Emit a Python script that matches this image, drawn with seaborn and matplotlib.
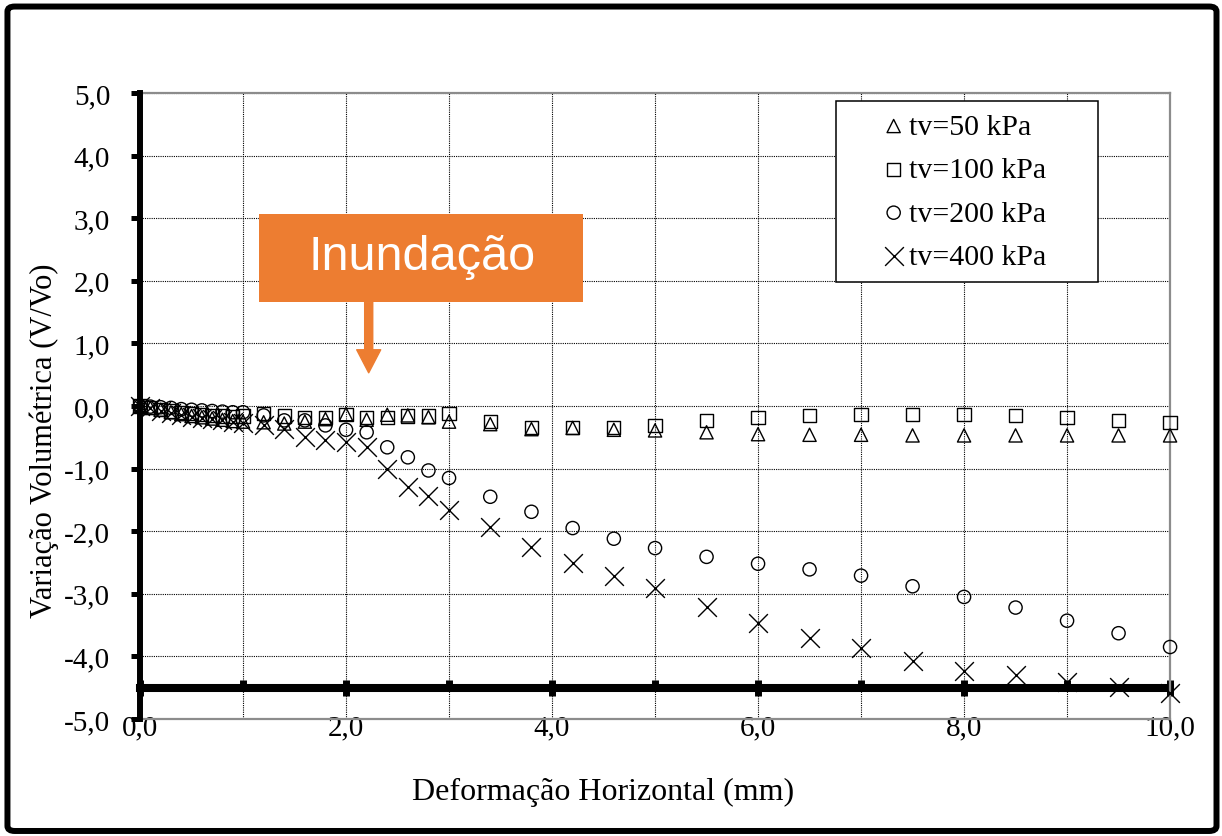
import matplotlib
matplotlib.use("Agg")
import matplotlib.pyplot as plt
from matplotlib.patches import Rectangle, FancyBboxPatch
from matplotlib.ticker import FuncFormatter, MultipleLocator
import seaborn as sns

# Horizontal displacement (mm)
deformacao = [0.0, 0.1, 0.2, 0.3, 0.4, 0.5, 0.6, 0.7, 0.8, 0.9, 1.0,
              1.2, 1.4, 1.6, 1.8, 2.0, 2.2, 2.4, 2.6, 2.8, 3.0,
              3.4, 3.8, 4.2, 4.6, 5.0, 5.5, 6.0, 6.5, 7.0, 7.5,
              8.0, 8.5, 9.0, 9.5, 10.0]

# Volumetric change for each normal stress
tv50 = [0.0, -0.03, -0.06, -0.10, -0.13, -0.16, -0.18, -0.20, -0.22, -0.24, -0.25,
        -0.26, -0.28, -0.25, -0.21, -0.13, -0.22, -0.14, -0.15, -0.18, -0.25,
        -0.29, -0.37, -0.35, -0.38, -0.39, -0.42, -0.45, -0.46, -0.46, -0.47,
        -0.47, -0.47, -0.47, -0.47, -0.47]
tv100 = [0.0, -0.02, -0.05, -0.08, -0.10, -0.12, -0.14, -0.15, -0.16, -0.17, -0.16,
         -0.12, -0.16, -0.18, -0.19, -0.14, -0.18, -0.18, -0.16, -0.16, -0.12,
         -0.25, -0.35, -0.34, -0.34, -0.31, -0.23, -0.18, -0.15, -0.13, -0.14,
         -0.14, -0.15, -0.19, -0.23, -0.26]
tv200 = [0.0, -0.01, -0.02, -0.03, -0.05, -0.06, -0.07, -0.08, -0.09, -0.10, -0.10,
         -0.15, -0.23, -0.23, -0.31, -0.38, -0.42, -0.66, -0.82, -1.03, -1.15,
         -1.45, -1.69, -1.95, -2.12, -2.27, -2.41, -2.52, -2.61, -2.71, -2.88,
         -3.05, -3.22, -3.43, -3.63, -3.85]
tv400 = [0.0, -0.04, -0.08, -0.11, -0.14, -0.17, -0.19, -0.21, -0.23, -0.25, -0.27,
         -0.31, -0.37, -0.50, -0.55, -0.58, -0.66, -1.00, -1.29, -1.43, -1.66,
         -1.94, -2.26, -2.51, -2.72, -2.91, -3.21, -3.47, -3.71, -3.87, -4.07,
         -4.23, -4.30, -4.41, -4.49, -4.58]

series_labels = ["tv=50 kPa", "tv=100 kPa", "tv=200 kPa", "tv=400 kPa"]
series_values = [tv50, tv100, tv200, tv400]
series_markers = ["^", "s", "o", "x"]

sns.set_style("white")
plt.rcParams["font.family"] = ["Liberation Serif", "DejaVu Serif"]
plt.rcParams["text.color"] = "black"
plt.rcParams["axes.labelcolor"] = "black"
plt.rcParams["xtick.color"] = "black"
plt.rcParams["ytick.color"] = "black"
plt.rcParams["xtick.labelcolor"] = "black"
plt.rcParams["ytick.labelcolor"] = "black"

fig = plt.figure(figsize=(12.22, 8.37), dpi=100)
ax = fig.add_axes([0.1146, 0.1398, 0.8429, 0.7479])

for label, values, marker in zip(series_labels, series_values, series_markers):
    if marker == "x":
        sns.scatterplot(x=deformacao, y=values, ax=ax, marker="x", s=13.5 ** 2,
                        color="black", linewidth=1.0, label=label,
                        zorder=3, clip_on=False, legend=False)
    else:
        sns.scatterplot(x=deformacao, y=values, ax=ax, marker=marker, s=9.5 ** 2,
                        color="black", facecolor="none", edgecolor="black",
                        linewidth=1.0, label=label, zorder=3, clip_on=False,
                        legend=False)

ax.set_xlim(0, 10)
ax.set_ylim(-5, 5)

fmt = FuncFormatter(lambda v, p: f"{v:.1f}".replace(".", ","))
ax.yaxis.set_major_locator(MultipleLocator(1))
ax.yaxis.set_major_formatter(fmt)
ax.xaxis.set_major_locator(MultipleLocator(1))
ax.xaxis.set_major_formatter(
    FuncFormatter(lambda v, p: f"{v:.1f}".replace(".", ",") if round(v) % 2 == 0 else ""))

ax.tick_params(axis="y", which="major", direction="out", length=6.5, width=3.6,
               pad=15, labelsize=21, color="black", labelcolor="black", left=True)
ax.tick_params(axis="x", which="major", length=0, pad=-3.5, labelsize=21,
               labelcolor="black")

ax.grid(True, color="black", linestyle=(0, (1, 1)), linewidth=0.8)
ax.set_axisbelow(True)

for side in ["top", "right", "bottom"]:
    ax.spines[side].set_color("#8c8c8c")
    ax.spines[side].set_linewidth(1.6)
ax.spines["left"].set_color("black")
ax.spines["left"].set_linewidth(4.3)
ax.spines["left"].set_zorder(4)

# Thick horizontal axis line crossing at V/Vo = -4,5
sec = ax.secondary_xaxis(-4.5, transform=ax.transData)
sec.spines["bottom"].set_linewidth(5.8)
sec.spines["bottom"].set_color("black")
sec.xaxis.set_major_locator(MultipleLocator(2))
sec.xaxis.set_minor_locator(MultipleLocator(1))
sec.tick_params(axis="x", which="major", direction="inout", length=11, width=5,
                labelbottom=False, color="black")
sec.tick_params(axis="x", which="minor", direction="in", length=5.5, width=5,
                labelbottom=False, color="black")

ax.set_xlabel("Deformação Horizontal (mm)", fontsize=23, color="black")
ax.xaxis.set_label_coords(0.45, -0.093)
ax.set_ylabel("Variação Volumétrica (V/Vo)", fontsize=22, color="black")
ax.yaxis.set_label_coords(-0.079, 0.4457)

leg = ax.legend(loc="upper left", bbox_to_anchor=(0.6757, 0.6645, 0.2544, 0.3227),
                mode="expand", borderaxespad=0, fontsize=21.5, scatterpoints=1,
                handlelength=3.06, handletextpad=-1.0, labelspacing=0.55,
                borderpad=0.4, fancybox=False, framealpha=1, edgecolor="black",
                labelcolor="black")
leg.get_frame().set_linewidth(1.1)
leg.set_zorder(6)

# Flooding annotation
orange = "#ED7D31"
ax.add_patch(Rectangle((1.155, 1.66), 3.145, 1.41, facecolor=orange,
                       edgecolor="none", zorder=5))
ax.text(2.738, 2.19, "Inundação", ha="center", va="baseline", color="white",
        fontsize=35, family=["Liberation Sans", "DejaVu Sans"], zorder=6)
ax.annotate("", xy=(2.22, 0.53), xytext=(2.22, 1.66),
            arrowprops=dict(arrowstyle="simple,head_length=1.66,head_width=1.73,tail_width=0.58",
                            color=orange, shrinkA=0, shrinkB=0, mutation_scale=10),
            zorder=5)

# Outer frame around the whole figure
fig.patches.append(FancyBboxPatch((0.0061, 0.006), 0.9894, 0.985,
                                  boxstyle="round,pad=0,rounding_size=0.006",
                                  transform=fig.transFigure, fill=False,
                                  edgecolor="black", linewidth=4.3))

fig.savefig("out.png", dpi=100)
